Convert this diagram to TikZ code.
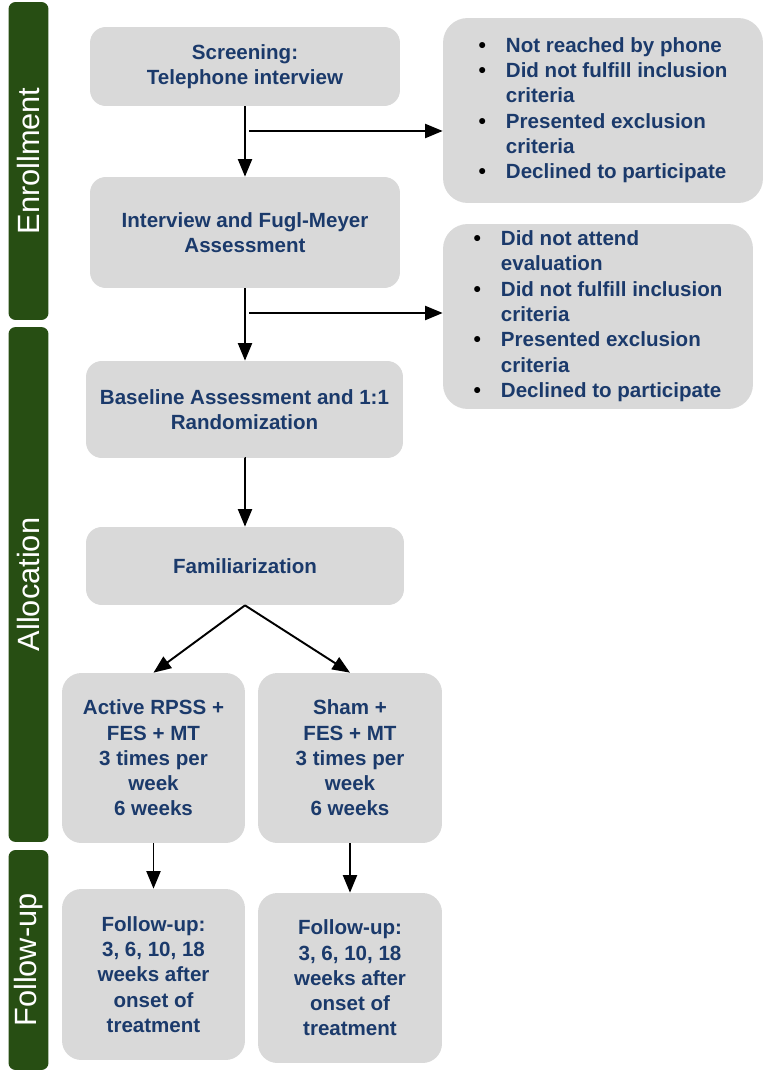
\documentclass[tikz,border=0pt]{standalone}
\usepackage{fontspec}
\setmainfont{Liberation Sans}
\usepackage{tikz}
\usetikzlibrary{arrows.meta,calc}

\definecolor{boxgray}{HTML}{D9D9D9}
\definecolor{bargreen}{HTML}{274E13}
\definecolor{txtblue}{HTML}{1B3A6B}

\newcommand{\dotitem}{{\color{black}\large\textbullet}}

\begin{document}
\begin{tikzpicture}[x=0.02cm,y=-0.02cm,%,cap=round,>=latex]
  box/.style={fill=boxgray, rounded corners=9pt, align=center, inner sep=0pt,
    text=txtblue, font=\bfseries\fontsize{11.7}{14.4}\selectfont},
  bar/.style={fill=bargreen, rounded corners=4pt, inner sep=0pt, rotate=90,
    text=white, minimum height=0.8cm, font=\fontsize{17.5}{20}\selectfont},
  arr/.style={line width=1.1pt, -{Triangle[length=10pt,width=8pt]}}]

\useasboundingbox (0,0) rectangle (765,1077);

% phases
\node [bar, minimum width=6.36cm] (enroll) at (28.5,161) {Enrollment};
\node [bar, minimum width=10.3cm] (alloc) at (28.5,584.5) {Allocation};
\node [bar, minimum width=4.4cm] (follow) at (28.5,960) {Follow-up};

% main flow
\node [box, minimum width=6.2cm, minimum height=1.58cm] (screen) at (245,66.5) {Screening:\\Telephone interview};
\node [box, minimum width=6.2cm, minimum height=2.22cm] (interview) at (245,232.5) {Interview and Fugl-Meyer\\Assessment};
\node [box, minimum width=6.34cm, minimum height=1.94cm] (baseline) at (244.5,409.5) {Baseline Assessment and 1:1\\Randomization};
\node [box, minimum width=6.36cm, minimum height=1.56cm] (famil) at (245,566) {Familiarization};

\node [box, rounded corners=11pt, minimum width=3.66cm, minimum height=3.4cm] (active) at (153.5,758) {Active RPSS +\\FES + MT\\3 times per\\week\\6 weeks};
\node [box, rounded corners=11pt, minimum width=3.68cm, minimum height=3.4cm] (sham) at (350,758) {Sham +\\FES + MT\\3 times per\\week\\6 weeks};
\node [box, rounded corners=11pt, minimum width=3.66cm, minimum height=3.42cm] (fuA) at (153.5,974.5) {Follow-up:\\3, 6, 10, 18\\weeks after\\onset of\\treatment};
\node [box, rounded corners=11pt, minimum width=3.68cm, minimum height=3.4cm] (fuS) at (350,978) {Follow-up:\\3, 6, 10, 18\\weeks after\\onset of\\treatment};

% exclusions
\node [box, rounded corners=14pt, minimum width=6.4cm, minimum height=3.7cm] (excl1) at (603,110.5) {%
\begin{tabular}{@{}c@{\hspace{0.4cm}}l@{}}
\dotitem & Not reached by phone\\
\dotitem & Did not fulfill inclusion\\
 & criteria\\
\dotitem & Presented exclusion\\
 & criteria\\
\dotitem & Declined to participate
\end{tabular}};
\node [box, rounded corners=14pt, minimum width=6.2cm, minimum height=3.7cm] (excl2) at (598,316.5) {%
\begin{tabular}{@{}c@{\hspace{0.4cm}}l@{}}
\dotitem & Did not attend\\
 & evaluation\\
\dotitem & Did not fulfill inclusion\\
 & criteria\\
\dotitem & Presented exclusion\\
 & criteria\\
\dotitem & Declined to participate
\end{tabular}};

\coordinate [] (br1) at (249,131);
\coordinate [] (br2) at (249,313);

\draw [arr] (screen.south) -- (interview.north);
\draw [arr] (interview.south) -- (interview.south |- baseline.north);
\draw [arr] (baseline.south) -- (baseline.south -| famil.north) -- (famil.north);
\draw [arr] (br1) -- (br1 -| excl1.west);
\draw [arr] (br2) -- (br2 -| excl2.west);

\draw [arr] (famil.south) -- (active.north);
\draw [arr] (famil.south) -- (sham.north);
\draw [arr] (active.south) -- (fuA.north);
\draw [arr] (sham.south) -- (fuS.north);

\end{tikzpicture}
\end{document}
